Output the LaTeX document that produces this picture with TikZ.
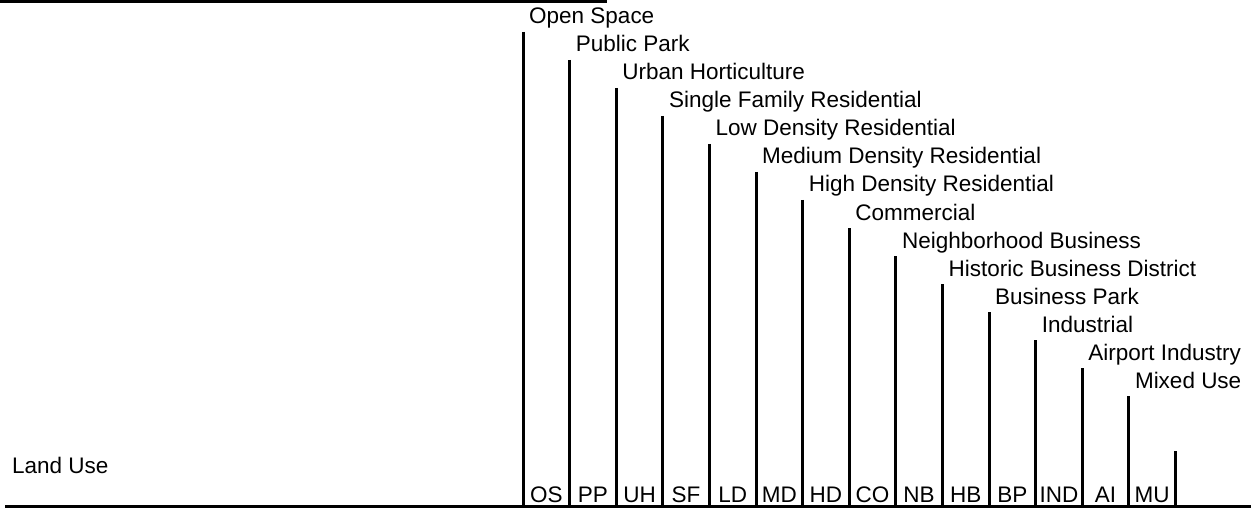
\documentclass[tikz,border=0pt]{standalone}
\usepackage{fontspec}
\setmainfont{Liberation Sans}
\begin{document}
\begin{tikzpicture}[x=1pt,y=-1pt,
  vline/.style={line width=3pt},
  hline/.style={line width=3pt},
  txt/.style={inner sep=0pt,font=\fontsize{22.5}{27}\selectfont},
  toplabel/.style={txt,anchor=base west},
  abbr/.style={txt,anchor=base}]
\useasboundingbox (0,0) rectangle (1251,508);
% top bar
\coordinate (tbL) at (0,1.5);
\coordinate (tbR) at (607,1.5);
\draw[hline,line width=3.5pt] (tbL) -- (tbR);
% bottom line
\coordinate (bL) at (5,506.5);
\coordinate (bR) at (1251,506.5);
\draw[hline] (bL) -- (bR);
\node[toplabel] (landuse) at (12,473) {Land Use};
\foreach \i/\lab/\ab in {0/Open Space/OS,1/Public Park/PP,2/Urban Horticulture/UH,3/Single Family Residential/SF,4/Low Density Residential/LD,5/Medium Density Residential/MD,6/High Density Residential/HD,7/Commercial/CO,8/Neighborhood Business/NB,9/Historic Business District/HB,10/Business Park/BP,11/Industrial/IND,12/Airport Industry/AI,13/Mixed Use/MU}{
  \pgfmathsetmacro{\xx}{523+46.6*\i}
  \pgfmathsetmacro{\yy}{32+28*\i}
  \coordinate (t\i) at (\xx,\yy);
  \coordinate (b\i) at (\xx,506);
  \draw[vline] (t\i) -- (b\i);
  \node[toplabel] (l\i) at (\xx+6,\yy-8) {\lab};
  \node[abbr] (a\i) at (\xx+23.3,502) {\ab};
}
\coordinate (t14) at (1175,451);
\coordinate (b14) at (1175,506);
\draw[vline] (t14) -- (b14);
\end{tikzpicture}
\end{document}
